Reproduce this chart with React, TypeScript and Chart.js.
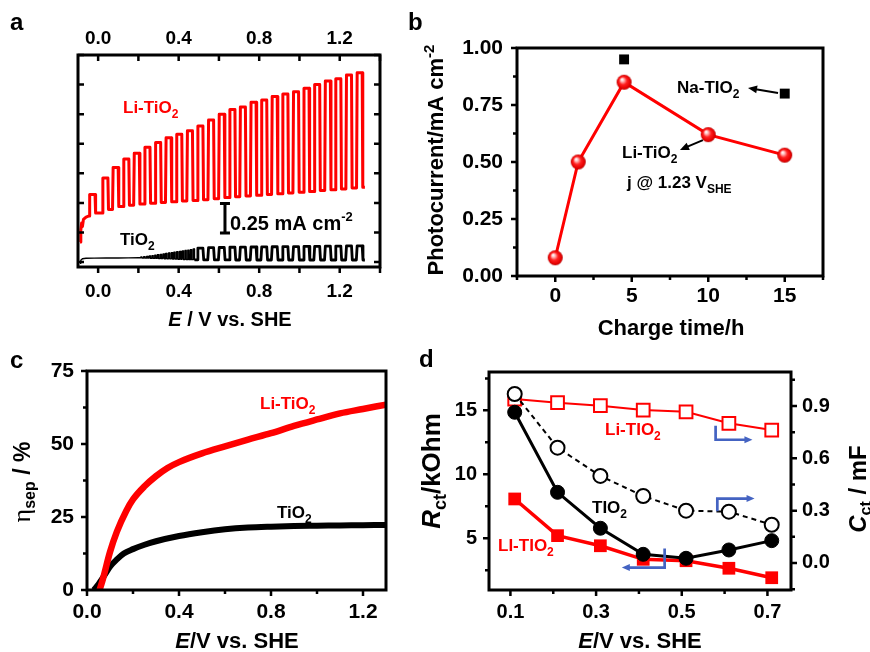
import React, { useEffect, useRef } from 'react';
import { Chart, registerables } from 'chart.js';
Chart.register(...registerables);

const SANS = '"Liberation Sans", Arial, Helvetica, sans-serif';
const SERIF = '"Liberation Serif", "DejaVu Serif", serif';
const RED = '#ff0000';
const BLUE = '#4463c2';

// ---------------- Panel a: chopped-light scans ----------------
const aXTicks = [0, 0.4, 0.8, 1.2];
const aXTickMarks = [0, 0.2, 0.4, 0.6, 0.8, 1.0, 1.2, 1.4];
const aYTickMarks = [0, 0.25, 0.5, 0.75, 1.0, 1.25, 1.5, 1.75];
const liLeadE = [-0.09, -0.086, -0.082, -0.078, -0.073, -0.06, -0.045];
const liLeadJ = [0.17, 0.27, 0.33, 0.30, 0.36, 0.38, 0.39];
const liPulseE = [-0.028, 0.036, 0.087, 0.140, 0.192, 0.245, 0.298, 0.350, 0.403, 0.456, 0.508, 0.561, 0.614, 0.667, 0.719, 0.772, 0.825, 0.877, 0.930, 0.983, 1.035, 1.088, 1.141, 1.193, 1.246, 1.299];
const liLight = [0.57, 0.71, 0.80, 0.87, 0.92, 0.97, 1.01, 1.05, 1.08, 1.11, 1.15, 1.20, 1.25, 1.29, 1.31, 1.35, 1.37, 1.40, 1.42, 1.44, 1.47, 1.50, 1.53, 1.55, 1.58, 1.60];
const liDark = [0.415, 0.445, 0.47, 0.48, 0.49, 0.497, 0.503, 0.51, 0.515, 0.52, 0.527, 0.535, 0.545, 0.552, 0.558, 0.565, 0.571, 0.577, 0.583, 0.59, 0.597, 0.604, 0.611, 0.618, 0.625, 0.632];
const tiLeadE = [-0.09, -0.086, -0.078, -0.06, -0.02, 0.04, 0.10, 0.15, 0.20];
const tiLeadJ = [-0.01, 0.015, 0.028, 0.032, 0.033, 0.034, 0.034, 0.035, 0.036];
const tiFastE = [0.215, 0.229, 0.243, 0.256, 0.270, 0.284, 0.297, 0.311, 0.325, 0.338, 0.352, 0.366, 0.379, 0.393, 0.407, 0.420, 0.434, 0.448, 0.461, 0.475];
const tiFastHi = [0.042, 0.045, 0.048, 0.051, 0.054, 0.058, 0.061, 0.065, 0.068, 0.072, 0.076, 0.079, 0.083, 0.087, 0.090, 0.094, 0.098, 0.101, 0.105, 0.110];
const tiFastLo = [0.034, 0.033, 0.033, 0.032, 0.031, 0.031, 0.030, 0.029, 0.028, 0.028, 0.027, 0.026, 0.025, 0.024, 0.023, 0.022, 0.021, 0.020, 0.020, 0.019];
const tiSlowE = [0.508, 0.561, 0.614, 0.667, 0.719, 0.772, 0.825, 0.877, 0.930, 0.983, 1.035, 1.088, 1.141, 1.193, 1.246, 1.299];
const tiSlowHi = [0.118, 0.121, 0.123, 0.125, 0.126, 0.127, 0.128, 0.129, 0.130, 0.131, 0.132, 0.133, 0.134, 0.135, 0.136, 0.137];
const tiSlowLo = [0.018, 0.018, 0.018, 0.017, 0.017, 0.017, 0.017, 0.017, 0.017, 0.017, 0.017, 0.017, 0.017, 0.017, 0.017, 0.017];
const scanEndE = 1.325;
const scaleBarE = 0.63;
const scaleBarJ = [0.245, 0.495];

// ---------------- Panel b: photocurrent vs charge time ----------------
const chargeTime = [0, 1.5, 4.5, 10, 15];
const liPhoto = [0.08, 0.50, 0.85, 0.62, 0.53];
const naTime = [4.5, 15];
const naPhoto = [0.95, 0.80];
const bXTicks = [0, 5, 10, 15];
const bXMinor = [-2.5, 2.5, 7.5, 12.5, 17.5];
const bYTicks = [0, 0.25, 0.5, 0.75, 1.0];
const bYMinor = [0.125, 0.375, 0.625, 0.875];

// ---------------- Panel c: separation efficiency ----------------
const cLiE = [0.055, 0.07, 0.10, 0.13, 0.17, 0.20, 0.25, 0.30, 0.35, 0.40, 0.50, 0.60, 0.70, 0.80, 0.90, 1.00, 1.10, 1.20, 1.30];
const cLiEta = [0, 4, 13, 20, 27, 31, 35.5, 39, 41.8, 43.8, 46.8, 49.2, 51.5, 53.7, 56.2, 58.4, 60.5, 62, 63.5];
const cTiE = [0.03, 0.05, 0.08, 0.10, 0.13, 0.16, 0.20, 0.25, 0.30, 0.40, 0.50, 0.60, 0.70, 0.80, 0.90, 1.00, 1.10, 1.20, 1.30];
const cTiEta = [0, 2, 5.5, 8, 10.5, 12.5, 14, 15.5, 16.7, 18.5, 19.8, 20.8, 21.4, 21.7, 21.9, 22, 22.1, 22.2, 22.3];
const cXTicks = [0, 0.4, 0.8, 1.2];
const cXMinor = [0.2, 0.6, 1.0];
const cYTicks = [0, 25, 50, 75];
const cYMinor = [12.5, 37.5, 62.5];

// ---------------- Panel d: Rct / Cct ----------------
const dE = [0.11, 0.21, 0.31, 0.41, 0.51, 0.61, 0.71];
const rctTiO2 = [14.85, 8.59, 5.78, 3.74, 3.43, 4.08, 4.81];
const rctLi = [8.07, 5.2, 4.41, 3.35, 3.24, 2.65, 1.91];
const cctTiO2 = [0.969, 0.661, 0.499, 0.384, 0.30, 0.294, 0.219];
const cctLi = [0.94, 0.919, 0.902, 0.877, 0.867, 0.801, 0.762];
const dXTicks = [0.1, 0.3, 0.5, 0.7];
const dXMinor = [0.2, 0.4, 0.6];
const dYTicks = [5, 10, 15];
const dYMinor = [2.5, 7.5, 12.5, 17.5];
const dY2Ticks = [0, 0.3, 0.6, 0.9];
const dY2Minor = [-0.15, 0.15, 0.45, 0.75, 1.05];

type P = { x: number; y: number };
const zip = (xs: number[], ys: number[]): P[] => xs.map((x, i) => ({ x, y: ys[i] }));

function addPulses(pts: P[], E: number[], hi: number[], lo: number[], hw: number, edge: number) {
  for (let i = 0; i < E.length; i++) {
    const prev = pts[pts.length - 1].y;
    pts.push({ x: E[i] - hw - edge, y: prev });
    pts.push({ x: E[i] - hw, y: hi[i] });
    pts.push({ x: E[i] + hw, y: hi[i] });
    pts.push({ x: E[i] + hw + edge, y: lo[i] });
  }
}

function liScan(): P[] {
  const pts = zip(liLeadE, liLeadJ);
  addPulses(pts, liPulseE, liLight, liDark, 0.0125, 0.003);
  pts.push({ x: scanEndE, y: liDark[liDark.length - 1] });
  return pts;
}
function tiScanFast(): P[] {
  const pts = zip(tiLeadE, tiLeadJ);
  addPulses(pts, tiFastE, tiFastHi, tiFastLo, 0.0028, 0.0008);
  return pts;
}
function tiScanSlow(): P[] {
  const start = tiScanFast();
  const pts: P[] = [start[start.length - 1]];
  addPulses(pts, tiSlowE, tiSlowHi, tiSlowLo, 0.0125, 0.004);
  pts.push({ x: scanEndE, y: tiSlowLo[tiSlowLo.length - 1] });
  return pts;
}

const b = (s: number) => `bold ${s}px ${SANS}`;
const bi = (s: number) => `italic bold ${s}px ${SANS}`;
type Part = { t: string; f: string; dy?: number };

function drawRich(ctx: CanvasRenderingContext2D, x: number, y: number, parts: Part[], align: 'left' | 'center', color: string, rot = 0) {
  ctx.save();
  ctx.translate(x, y);
  ctx.rotate(rot);
  let w = 0;
  for (const p of parts) { ctx.font = p.f; w += ctx.measureText(p.t).width; }
  let cx = align === 'left' ? 0 : -w / 2;
  ctx.textAlign = 'left';
  ctx.textBaseline = 'alphabetic';
  ctx.fillStyle = color;
  for (const p of parts) {
    ctx.font = p.f;
    ctx.fillText(p.t, cx, p.dy || 0);
    cx += ctx.measureText(p.t).width;
  }
  ctx.restore();
}

function frame(ctx: CanvasRenderingContext2D, ca: any) {
  ctx.save();
  ctx.strokeStyle = '#000';
  ctx.lineWidth = 3;
  ctx.strokeRect(ca.left, ca.top, ca.right - ca.left, ca.bottom - ca.top);
  ctx.restore();
}
function tickX(ctx: CanvasRenderingContext2D, s: any, edge: number, vals: number[], len: number, dir: number) {
  ctx.save();
  ctx.strokeStyle = '#000';
  ctx.lineWidth = 2.5;
  ctx.beginPath();
  for (const v of vals) { const p = s.getPixelForValue(v); ctx.moveTo(p, edge); ctx.lineTo(p, edge + dir * len); }
  ctx.stroke();
  ctx.restore();
}
function tickY(ctx: CanvasRenderingContext2D, s: any, edge: number, vals: number[], len: number, dir: number) {
  ctx.save();
  ctx.strokeStyle = '#000';
  ctx.lineWidth = 2.5;
  ctx.beginPath();
  for (const v of vals) { const p = s.getPixelForValue(v); ctx.moveTo(edge, p); ctx.lineTo(edge + dir * len, p); }
  ctx.stroke();
  ctx.restore();
}
function arrow(ctx: CanvasRenderingContext2D, pts: number[][], color: string, lw: number, hl: number, hwid: number) {
  ctx.save();
  ctx.strokeStyle = color;
  ctx.fillStyle = color;
  ctx.lineWidth = lw;
  ctx.lineJoin = 'miter';
  const n = pts.length;
  const [ex, ey] = pts[n - 1];
  const [px, py] = pts[n - 2];
  const ang = Math.atan2(ey - py, ex - px);
  ctx.beginPath();
  ctx.moveTo(pts[0][0], pts[0][1]);
  for (let i = 1; i < n - 1; i++) ctx.lineTo(pts[i][0], pts[i][1]);
  ctx.lineTo(ex - Math.cos(ang) * hl * 0.7, ey - Math.sin(ang) * hl * 0.7);
  ctx.stroke();
  ctx.beginPath();
  ctx.moveTo(ex, ey);
  ctx.lineTo(ex - Math.cos(ang) * hl + Math.sin(ang) * hwid, ey - Math.sin(ang) * hl - Math.cos(ang) * hwid);
  ctx.lineTo(ex - Math.cos(ang) * hl - Math.sin(ang) * hwid, ey - Math.sin(ang) * hl + Math.cos(ang) * hwid);
  ctx.closePath();
  ctx.fill();
  ctx.restore();
}

function axis(min: number, max: number, ticks: number[], pos: string, size: number, pad: number, fs: number, fmt: (v: number) => string, display = true): any {
  const horizontal = pos === 'top' || pos === 'bottom';
  return {
    type: 'linear', position: pos, min, max,
    afterBuildTicks: (s: any) => { s.ticks = ticks.map((v) => ({ value: v })); },
    afterFit: (s: any) => { if (horizontal) s.height = size; else s.width = size; },
    grid: { display: false, drawTicks: false, drawOnChartArea: false },
    border: { display: false },
    ticks: { display, padding: pad, color: '#000', autoSkip: false, maxRotation: 0, font: { family: SANS, size: fs, weight: 'bold' }, callback: (v: any) => fmt(Number(v)) },
  };
}

const baseOpts = (padding: any, scales: any): any => ({
  animation: false,
  responsive: false,
  events: [],
  layout: { padding, autoPadding: false },
  plugins: { legend: { display: false }, tooltip: { enabled: false } },
  scales,
});

function makeSphere(r: number): HTMLCanvasElement {
  const c = document.createElement('canvas');
  const d = Math.ceil(r * 2) + 2;
  c.width = d; c.height = d;
  const g = c.getContext('2d')!;
  const cx = d / 2, cy = d / 2;
  const grad = g.createRadialGradient(cx - r * 0.3, cy - r * 0.38, r * 0.05, cx, cy, r);
  grad.addColorStop(0, '#ffffff');
  grad.addColorStop(0.18, '#ffc0c0');
  grad.addColorStop(0.5, '#ff2020');
  grad.addColorStop(0.85, '#e60000');
  grad.addColorStop(1, '#b00000');
  g.fillStyle = grad;
  g.beginPath();
  g.arc(cx, cy, r, 0, Math.PI * 2);
  g.fill();
  return c;
}

const f1 = (v: number) => v.toFixed(1);
const f2 = (v: number) => v.toFixed(2);
const f0 = (v: number) => String(v);

function configA(): any {
  const plugin = {
    id: 'pa',
    afterDraw(chart: any) {
      const ctx = chart.ctx, ca = chart.chartArea, x = chart.scales.x, y = chart.scales.y;
      frame(ctx, ca);
      tickX(ctx, x, ca.bottom, aXTickMarks, 6, 1);
      tickX(ctx, x, ca.top, aXTickMarks, 6, 1);
      tickY(ctx, y, ca.left, aYTickMarks, 6, 1);
      tickY(ctx, y, ca.right, aYTickMarks, 6, -1);
      const bx = x.getPixelForValue(scaleBarE), y0 = y.getPixelForValue(scaleBarJ[0]), y1 = y.getPixelForValue(scaleBarJ[1]);
      ctx.save();
      ctx.strokeStyle = '#000'; ctx.lineWidth = 3;
      ctx.beginPath();
      ctx.moveTo(bx, y0); ctx.lineTo(bx, y1);
      ctx.moveTo(bx - 5, y0); ctx.lineTo(bx + 5, y0);
      ctx.moveTo(bx - 5, y1); ctx.lineTo(bx + 5, y1);
      ctx.stroke();
      ctx.restore();
      drawRich(ctx, 230, 230, [{ t: '0.25 mA cm', f: b(20) }, { t: '-2', f: b(13), dy: -9 }], 'left', '#000');
      drawRich(ctx, 123, 113, [{ t: 'Li-TiO', f: b(17) }, { t: '2', f: b(12), dy: 5 }], 'left', RED);
      drawRich(ctx, 120, 245, [{ t: 'TiO', f: b(17) }, { t: '2', f: b(12), dy: 5 }], 'left', '#000');
      drawRich(ctx, 230, 326, [{ t: 'E', f: bi(20) }, { t: ' / V vs. SHE', f: b(20) }], 'center', '#000');
      drawRich(ctx, 10, 30, [{ t: 'a', f: b(24) }], 'left', '#000');
    },
  };
  return {
    type: 'line',
    data: {
      datasets: [
        { data: liScan(), borderColor: RED, borderWidth: 3, pointRadius: 0, tension: 0, borderJoinStyle: 'round', order: 2 },
        { data: tiScanFast(), borderColor: '#000', borderWidth: 1.4, pointRadius: 0, tension: 0, borderJoinStyle: 'round', order: 1 },
        { data: tiScanSlow(), borderColor: '#000', borderWidth: 2.8, pointRadius: 0, tension: 0, borderJoinStyle: 'round', order: 0 },
      ],
    },
    options: baseOpts({ left: 18, right: 490, top: 25, bottom: 345 }, {
      x: axis(-0.1, 1.4, aXTicks, 'bottom', 40, 13, 19, f1),
      x2: axis(-0.1, 1.4, aXTicks, 'top', 30, 5, 19, f1),
      y: axis(-0.042, 1.75, aYTickMarks, 'left', 60, 0, 19, f2, false),
    }),
    plugins: [plugin],
  };
}

function configB(sphere: HTMLCanvasElement): any {
  const plugin = {
    id: 'pb',
    afterDraw(chart: any) {
      const ctx = chart.ctx, ca = chart.chartArea, x = chart.scales.x, y = chart.scales.y;
      frame(ctx, ca);
      tickY(ctx, y, ca.left, bYTicks, 6, -1);
      tickY(ctx, y, ca.left, bYMinor, 4, -1);
      tickX(ctx, x, ca.bottom, bXTicks, 6, 1);
      tickX(ctx, x, ca.bottom, bXMinor, 4, 1);
      const px = (v: number) => x.getPixelForValue(v), py = (v: number) => y.getPixelForValue(v);
      arrow(ctx, [[px(14.56), py(0.803)], [px(12.6), py(0.825)]], '#000', 2, 9, 4);
      arrow(ctx, [[px(9.65), py(0.596)], [px(8.15), py(0.553)]], '#000', 2, 9, 4);
      drawRich(ctx, 677, 93, [{ t: 'Na-TIO', f: b(17) }, { t: '2', f: b(12), dy: 5 }], 'left', '#000');
      drawRich(ctx, 622, 158, [{ t: 'Li-TiO', f: b(17) }, { t: '2', f: b(12), dy: 5 }], 'left', '#000');
      drawRich(ctx, 627, 188, [{ t: 'j @ 1.23 V', f: b(17) }, { t: 'SHE', f: b(12), dy: 5 }], 'left', '#000');
      drawRich(ctx, 671, 335, [{ t: 'Charge time/h', f: b(22) }], 'center', '#000');
      drawRich(ctx, 443, 160, [{ t: 'Photocurrent/mA cm', f: b(22) }, { t: '-2', f: b(15), dy: -9 }], 'center', '#000', -Math.PI / 2);
      drawRich(ctx, 408, 30, [{ t: 'b', f: b(24) }], 'left', '#000');
    },
  };
  return {
    type: 'line',
    data: {
      datasets: [
        { data: zip(chargeTime, liPhoto), borderColor: RED, borderWidth: 3, pointStyle: sphere, pointRadius: 8, tension: 0, order: 1 },
        { data: zip(naTime, naPhoto), showLine: false, pointStyle: 'rect', pointRadius: 7, pointBackgroundColor: '#000', pointBorderColor: '#000', pointBorderWidth: 0, order: 0 },
      ],
    },
    options: baseOpts({ left: 457, right: 47, top: 48, bottom: 336 }, {
      x: axis(-2.5, 17.5, bXTicks, 'bottom', 40, 8, 21, f0),
      y: axis(0, 1, bYTicks, 'left', 60, 14, 21, f2),
    }),
    plugins: [plugin],
  };
}

function configC(): any {
  const plugin = {
    id: 'pc',
    afterDraw(chart: any) {
      const ctx = chart.ctx, ca = chart.chartArea, x = chart.scales.x, y = chart.scales.y;
      frame(ctx, ca);
      tickY(ctx, y, ca.left, cYTicks, 6, -1);
      tickY(ctx, y, ca.left, cYMinor, 4, -1);
      tickX(ctx, x, ca.bottom, cXTicks, 6, 1);
      tickX(ctx, x, ca.bottom, cXMinor, 4, 1);
      drawRich(ctx, 260, 409, [{ t: 'Li-TiO', f: b(17) }, { t: '2', f: b(12), dy: 5 }], 'left', RED);
      drawRich(ctx, 277, 518, [{ t: 'TiO', f: b(17) }, { t: '2', f: b(12), dy: 5 }], 'left', '#000');
      drawRich(ctx, 237, 648, [{ t: 'E', f: bi(22) }, { t: '/V vs. SHE', f: b(22) }], 'center', '#000');
      drawRich(ctx, 30, 482, [{ t: 'η', f: `26px ${SERIF}` }, { t: 'sep', f: b(16), dy: 5 }, { t: ' / %', f: b(23) }], 'center', '#000', -Math.PI / 2);
      drawRich(ctx, 10, 368, [{ t: 'c', f: b(24) }], 'left', '#000');
    },
  };
  return {
    type: 'line',
    data: {
      datasets: [
        { data: zip(cLiE, cLiEta), borderColor: RED, borderWidth: 6.5, pointRadius: 0, cubicInterpolationMode: 'monotone', order: 0 },
        { data: zip(cTiE, cTiEta), borderColor: '#000', borderWidth: 6, pointRadius: 0, cubicInterpolationMode: 'monotone', order: 1 },
      ],
    },
    options: baseOpts({ left: 27, right: 484, top: 371, bottom: 22 }, {
      x: axis(0, 1.3, cXTicks, 'bottom', 40, 10, 21, f1),
      y: axis(0, 75, cYTicks, 'left', 60, 13, 21, f0),
    }),
    plugins: [plugin],
  };
}

function configD(): any {
  const plugin = {
    id: 'pd',
    afterDraw(chart: any) {
      const ctx = chart.ctx, ca = chart.chartArea, x = chart.scales.x, y = chart.scales.y, y2 = chart.scales.y2;
      frame(ctx, ca);
      tickY(ctx, y, ca.left, dYTicks, 6, -1);
      tickY(ctx, y, ca.left, dYMinor, 4, -1);
      tickY(ctx, y2, ca.right, dY2Ticks, 6, 1);
      tickY(ctx, y2, ca.right, dY2Minor, 4, 1);
      tickX(ctx, x, ca.bottom, dXTicks, 6, 1);
      tickX(ctx, x, ca.bottom, dXMinor, 4, 1);
      const px = (v: number) => x.getPixelForValue(v), py = (v: number) => y.getPixelForValue(v);
      arrow(ctx, [[px(0.579), py(13.8)], [px(0.579), py(12.7)], [px(0.665), py(12.7)]], BLUE, 2.7, 8, 3.5);
      arrow(ctx, [[px(0.583), py(7.1)], [px(0.583), py(8.1)], [px(0.67), py(8.1)]], BLUE, 2.7, 8, 3.5);
      arrow(ctx, [[px(0.46), py(4.2)], [px(0.46), py(2.7)], [px(0.36), py(2.7)]], BLUE, 2.7, 8, 3.5);
      drawRich(ctx, 605, 435, [{ t: 'Li-TIO', f: b(17) }, { t: '2', f: b(12), dy: 5 }], 'left', RED);
      drawRich(ctx, 592, 513, [{ t: 'TIO', f: b(17) }, { t: '2', f: b(12), dy: 5 }], 'left', '#000');
      drawRich(ctx, 498, 551, [{ t: 'LI-TIO', f: b(17) }, { t: '2', f: b(12), dy: 5 }], 'left', RED);
      drawRich(ctx, 640, 648, [{ t: 'E', f: bi(22) }, { t: '/V vs. SHE', f: b(22) }], 'center', '#000');
      drawRich(ctx, 440, 471, [{ t: 'R', f: bi(26) }, { t: 'ct', f: b(18), dy: 6 }, { t: '/kOhm', f: b(26) }], 'center', '#000', -Math.PI / 2);
      drawRich(ctx, 866, 489, [{ t: 'C', f: bi(24) }, { t: 'ct', f: b(16), dy: 5 }, { t: ' / mF', f: b(24) }], 'center', '#000', -Math.PI / 2);
      drawRich(ctx, 419, 367, [{ t: 'd', f: b(24) }], 'left', '#000');
    },
  };
  return {
    type: 'line',
    data: {
      datasets: [
        { data: zip(dE, rctTiO2), yAxisID: 'y', borderColor: '#000', borderWidth: 3, pointStyle: 'circle', pointRadius: 7, pointBackgroundColor: '#000', pointBorderColor: '#000', pointBorderWidth: 1, tension: 0, order: 0 },
        { data: zip(dE, cctTiO2), yAxisID: 'y2', borderColor: '#000', borderWidth: 2, borderDash: [5, 4], pointStyle: 'circle', pointRadius: 7, pointBackgroundColor: '#fff', pointBorderColor: '#000', pointBorderWidth: 2, tension: 0, order: 1 },
        { data: zip(dE, cctLi), yAxisID: 'y2', borderColor: RED, borderWidth: 2, pointStyle: 'rect', pointRadius: 9, pointBackgroundColor: '#fff', pointBorderColor: RED, pointBorderWidth: 2, tension: 0, order: 2 },
        { data: zip(dE, rctLi), yAxisID: 'y', borderColor: RED, borderWidth: 3.5, pointStyle: 'rect', pointRadius: 9, pointBackgroundColor: RED, pointBorderColor: RED, pointBorderWidth: 0, tension: 0, order: 3 },
      ],
    },
    options: baseOpts({ left: 429, right: 19, top: 372, bottom: 22 }, {
      x: axis(0.05, 0.755, dXTicks, 'bottom', 40, 10.5, 20, f1),
      y: axis(0.95, 18, dYTicks, 'left', 60, 12, 20, f0),
      y2: axis(-0.155, 1.095, dY2Ticks, 'right', 60, 11, 20, f1),
    }),
    plugins: [plugin],
  };
}

export default function App() {
  const ra = useRef<HTMLCanvasElement>(null);
  const rb = useRef<HTMLCanvasElement>(null);
  const rc = useRef<HTMLCanvasElement>(null);
  const rd = useRef<HTMLCanvasElement>(null);
  useEffect(() => {
    Chart.defaults.font.family = SANS;
    const sphere = makeSphere(7.5);
    const charts = [
      new Chart(ra.current!, configA()),
      new Chart(rb.current!, configB(sphere)),
      new Chart(rc.current!, configC()),
      new Chart(rd.current!, configD()),
    ];
    return () => charts.forEach((c) => c.destroy());
  }, []);
  const cs: React.CSSProperties = { position: 'absolute', left: 0, top: 0, width: 870, height: 652 };
  return (
    <div style={{ position: 'fixed', left: 0, top: 0, width: 870, height: 652, background: '#fff' }}>
      <canvas ref={ra} width={870} height={652} style={cs} />
      <canvas ref={rb} width={870} height={652} style={cs} />
      <canvas ref={rc} width={870} height={652} style={cs} />
      <canvas ref={rd} width={870} height={652} style={cs} />
    </div>
  );
}
